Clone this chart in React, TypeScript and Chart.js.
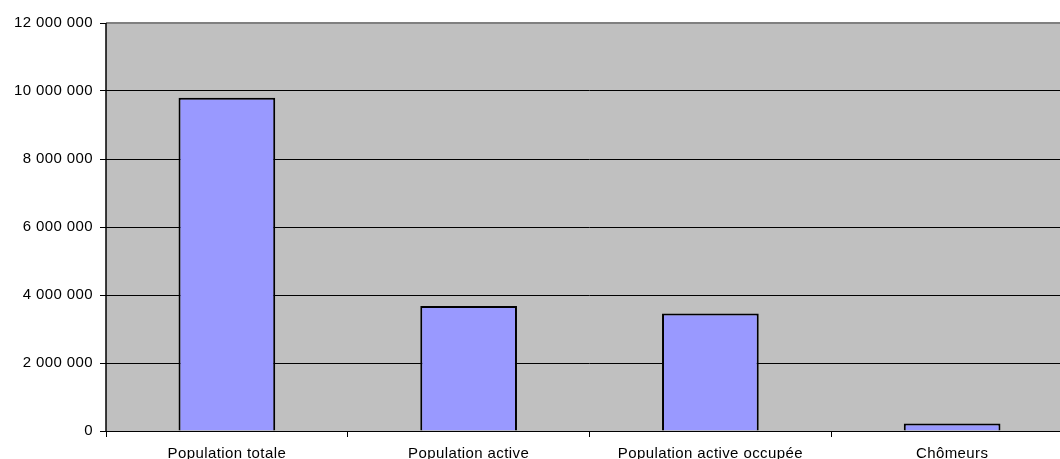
import React, { useEffect, useRef } from "react";
import { Chart, registerables } from "chart.js";

Chart.register(...registerables);

// Population figures per category
const categories = [
  "Population totale",
  "Population active",
  "Population active occupée",
  "Chômeurs",
];
const values = [9800000, 3680000, 3455000, 220000];

// Value axis range
const yMin = 0;
const yMax = 12000000;
const yStep = 2000000;

const CANVAS_W = 1085;
const CANVAS_H = 470;
const AREA_LEFT = 106;
const AREA_TOP = 23;
const AREA_BOTTOM = 431;
const AREA_RIGHT = 1073;

const FONT = { family: "'Liberation Sans', Arial, sans-serif", size: 15 };
const LETTER_SPACING = "0.4px";

function formatThousands(n: number): string {
  return Math.round(n)
    .toString()
    .replace(/\B(?=(\d{3})+(?!\d))/g, " ");
}

// Grey plot area, widened letter spacing, grey frame on top
const plotStyle = {
  id: "plotStyle",
  beforeLayout(chart: any) {
    chart.ctx.letterSpacing = LETTER_SPACING;
  },
  beforeDraw(chart: any) {
    const { ctx, chartArea } = chart;
    ctx.letterSpacing = LETTER_SPACING;
    ctx.save();
    ctx.fillStyle = "#C0C0C0";
    ctx.fillRect(
      chartArea.left,
      chartArea.top,
      chartArea.right - chartArea.left,
      chartArea.bottom - chartArea.top
    );
    ctx.restore();
  },
  afterDatasetsDraw(chart: any) {
    const { ctx, chartArea } = chart;
    ctx.save();
    ctx.strokeStyle = "#808080";
    ctx.lineWidth = 2;
    ctx.beginPath();
    ctx.moveTo(chartArea.left, chartArea.top);
    ctx.lineTo(chartArea.right, chartArea.top);
    ctx.stroke();
    ctx.strokeStyle = "#000";
    ctx.lineWidth = 1.5;
    ctx.beginPath();
    ctx.moveTo(chartArea.left, chartArea.top);
    ctx.lineTo(chartArea.left, chartArea.bottom + 0.5);
    ctx.stroke();
    ctx.restore();
  },
};

export default function App() {
  const canvasRef = useRef<HTMLCanvasElement | null>(null);

  useEffect(() => {
    if (!canvasRef.current) return;
    const chart = new Chart(canvasRef.current, {
      type: "bar",
      data: {
        labels: categories,
        datasets: [
          {
            data: values,
            backgroundColor: "#9999FF",
            borderColor: "#000000",
            borderWidth: 2,
            categoryPercentage: 1,
            barPercentage: 0.4,
          },
        ],
      },
      options: {
        responsive: false,
        animation: false,
        devicePixelRatio: 1,
        layout: {
          padding: {
            left: 0,
            top: AREA_TOP,
            right: CANVAS_W - AREA_RIGHT,
            bottom: 0,
          },
        },
        plugins: {
          legend: { display: false },
          tooltip: { enabled: false },
        },
        scales: {
          x: {
            offset: true,
            grid: {
              display: true,
              offset: true,
              drawOnChartArea: false,
              drawTicks: true,
              tickLength: 6,
              color: "#000",
            },
            border: { display: true, color: "#000", width: 1 },
            ticks: {
              color: "#000",
              font: FONT,
              padding: 8,
              maxRotation: 0,
              autoSkip: false,
            },
            afterFit(scale: any) {
              scale.height = CANVAS_H - AREA_BOTTOM;
            },
          },
          y: {
            min: yMin,
            max: yMax,
            grid: {
              color: "#000",
              lineWidth: 1,
              drawTicks: true,
              tickLength: 6,
            },
            border: { display: false },
            ticks: {
              stepSize: yStep,
              color: "#000",
              font: FONT,
              padding: 7,
              callback: (v: any) => formatThousands(Number(v)),
            },
            afterFit(scale: any) {
              scale.width = AREA_LEFT;
            },
          },
        },
      },
      plugins: [plotStyle],
    });
    return () => chart.destroy();
  }, []);

  return (
    <div
      style={{
        position: "fixed",
        left: 0,
        top: 0,
        width: 1060,
        height: 459,
        overflow: "hidden",
        background: "#fff",
      }}
    >
      <canvas
        ref={canvasRef}
        width={CANVAS_W}
        height={CANVAS_H}
        style={{ width: CANVAS_W, height: CANVAS_H, display: "block" }}
      />
    </div>
  );
}
